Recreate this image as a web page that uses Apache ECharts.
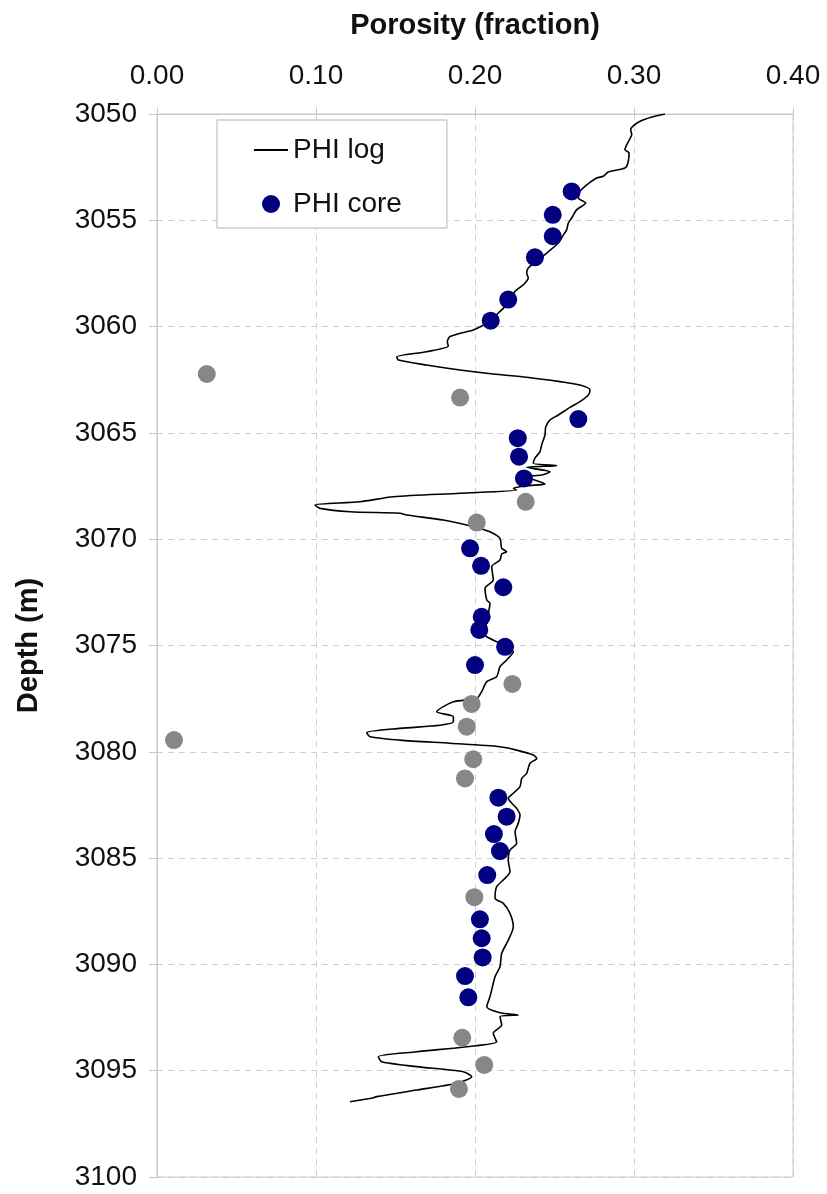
<!DOCTYPE html>
<html>
<head>
<meta charset="utf-8">
<script src="https://cdn.jsdelivr.net/npm/echarts@6/dist/echarts.min.js"></script>
<style>
html,body{margin:0;padding:0;background:#fff;}
#chart{width:827px;height:1194px;}
</style>
</head>
<body>
<div id="chart"></div>
<script>
// PHI log (porosity fraction) and depth (m)
var logPhi = [0.3195,0.3113,0.3038,0.2992,0.2979,0.2986,0.2971,0.2943,0.2969,0.2954,0.2923,0.2838,0.2807,0.2765,0.2703,0.2660,0.2650,0.2696,0.2640,0.2608,0.2587,0.2577,0.2560,0.2524,0.2451,0.2388,0.2335,0.2325,0.2335,0.2304,0.2252,0.2199,0.2147,0.2094,0.2031,0.1989,0.1843,0.1826,0.1832,0.1696,0.1508,0.1518,0.1696,0.1906,0.2115,0.2325,0.2535,0.2660,0.2723,0.2713,0.2660,0.2597,0.2524,0.2472,0.2445,0.2440,0.2419,0.2409,0.2377,0.2367,0.2514,0.2325,0.2472,0.2419,0.2325,0.2440,0.2325,0.2241,0.2262,0.1906,0.1486,0.1277,0.0994,0.1025,0.1214,0.1528,0.1570,0.1801,0.1989,0.2094,0.2157,0.2168,0.2199,0.2168,0.2157,0.2105,0.2115,0.2063,0.2074,0.2094,0.2084,0.2063,0.2074,0.2157,0.2241,0.2199,0.2157,0.2136,0.2074,0.2042,0.2011,0.1864,0.1759,0.1864,0.1864,0.1780,0.1528,0.1319,0.1340,0.1528,0.1843,0.2157,0.2262,0.2367,0.2388,0.2346,0.2325,0.2294,0.2283,0.2241,0.2209,0.2262,0.2283,0.2272,0.2252,0.2262,0.2220,0.2209,0.2220,0.2189,0.2136,0.2126,0.2178,0.2220,0.2241,0.2209,0.2168,0.2157,0.2126,0.2105,0.2094,0.2074,0.2157,0.2272,0.2157,0.2168,0.2115,0.2136,0.1948,0.1633,0.1392,0.1413,0.1633,0.1926,0.1979,0.1885,0.1633,0.1382,0.1350,0.1214];
var logDepth = [3050.00,3050.14,3050.34,3050.58,3050.74,3050.97,3051.21,3051.68,3051.83,3052.46,3052.59,3052.73,3052.93,3053.01,3053.33,3053.64,3053.95,3054.19,3054.50,3054.89,3055.13,3055.44,3055.64,3056.07,3056.54,3056.93,3057.24,3057.48,3057.71,3058.03,3058.34,3058.97,3059.36,3059.75,3060.02,3060.16,3060.47,3060.71,3060.91,3061.18,3061.42,3061.57,3061.81,3062.04,3062.23,3062.38,3062.59,3062.75,3062.98,3063.22,3063.53,3063.80,3064.16,3064.39,3064.71,3065.10,3065.57,3065.88,3066.19,3066.43,3066.54,3066.62,3066.83,3066.98,3067.06,3067.40,3067.48,3067.61,3067.69,3067.84,3068.00,3068.24,3068.39,3068.55,3068.71,3068.78,3068.86,3069.10,3069.41,3069.65,3069.96,3070.43,3070.59,3070.70,3070.98,3071.29,3071.92,3072.31,3072.86,3073.02,3073.49,3074.43,3074.59,3074.90,3075.29,3075.68,3076.00,3076.47,3076.70,3077.17,3077.49,3077.65,3078.12,3078.35,3078.59,3078.75,3078.90,3079.10,3079.29,3079.45,3079.60,3079.76,3079.92,3080.15,3080.31,3080.54,3081.01,3081.25,3081.64,3081.95,3082.19,3082.66,3082.97,3083.36,3083.76,3084.30,3084.62,3085.09,3085.64,3085.95,3086.35,3086.89,3087.13,3087.60,3088.23,3088.86,3089.48,3090.11,3090.58,3091.20,3091.52,3091.99,3092.27,3092.38,3092.46,3092.85,3093.24,3093.64,3093.87,3094.11,3094.34,3094.58,3094.81,3095.05,3095.28,3095.59,3095.91,3096.22,3096.30,3096.46];

// PHI core samples
var corePhi = [0.2608,0.2489,0.2489,0.2377,0.2209,0.2099,0.2650,0.2269,0.2277,0.2308,0.1969,0.2038,0.2178,0.2042,0.2027,0.2189,0.2000,0.2147,0.2199,0.2119,0.2157,0.2077,0.2031,0.2042,0.2048,0.1937,0.1958];
var coreDepth = [3053.64,3054.74,3055.75,3056.74,3058.73,3059.72,3064.35,3065.25,3066.12,3067.14,3070.43,3071.25,3072.26,3073.65,3074.27,3075.06,3075.92,3082.16,3083.05,3083.87,3084.67,3085.80,3087.88,3088.77,3089.67,3090.55,3091.55];

// other core samples (grey)
var greyPhi = [0.0313,0.1906,0.2319,0.2011,0.2235,0.1979,0.1948,0.0107,0.1989,0.1937,0.1996,0.1920,0.2058,0.1899];
var greyDepth = [3062.23,3063.34,3068.24,3069.22,3076.81,3077.75,3078.82,3079.45,3080.35,3081.25,3086.84,3093.45,3094.73,3095.86];

// axis ticks
var xTicks = [0.00,0.10,0.20,0.30,0.40];
var yTicks = [3050,3055,3060,3065,3070,3075,3080,3085,3090,3095,3100];

function pairs(xs, ys){ return xs.map(function(v,i){ return [v, ys[i]]; }); }

var FONT = "'Liberation Sans', Arial, Helvetica, sans-serif";
var chart = echarts.init(document.getElementById('chart'), null, {renderer:'canvas'});
chart.setOption({
  animation: false,
  backgroundColor: '#ffffff',
  textStyle: {fontFamily: FONT},
  grid: {left: 157, top: 114, width: 636, height: 1063, show: true, borderColor: '#c8c8c8', borderWidth: 1},
  legend: {
    orient: 'vertical', left: 217, top: 120,
    data: [
      {name:'PHI log', itemStyle: {opacity: 0}},
      {name:'PHI core', icon:'circle'}
    ],
    itemWidth: 34, itemHeight: 18, itemGap: 26,
    padding: [16, 45, 10, 36],
    borderColor: '#b4b4b4', borderWidth: 1, backgroundColor: '#fff',
    textStyle: {fontSize: 28, color: '#111', fontFamily: FONT}
  },
  xAxis: {
    type: 'value', position: 'top', min: xTicks[0], max: xTicks[xTicks.length-1], interval: 0.1,
    name: 'Porosity (fraction)', nameLocation: 'middle', nameGap: 74,
    nameTextStyle: {fontSize: 29, fontWeight: 'bold', color: '#111', fontFamily: FONT},
    axisLine: {show: true, lineStyle: {color: '#c8c8c8', width: 1}},
    axisTick: {show: true, inside: false, length: 6, lineStyle: {color: '#c8c8c8'}},
    axisLabel: {fontSize: 28, color: '#111', margin: 24, fontFamily: FONT,
      formatter: function(v){ return v.toFixed(2); }},
    splitLine: {show: true, lineStyle: {color: '#cfcfcf', type: [6, 5], width: 1}}
  },
  yAxis: {
    type: 'value', inverse: true, min: yTicks[0], max: yTicks[yTicks.length-1], interval: 5,
    name: 'Depth (m)', nameLocation: 'middle', nameGap: 114,
    nameTextStyle: {fontSize: 29, fontWeight: 'bold', color: '#111', fontFamily: FONT},
    axisLine: {show: true, lineStyle: {color: '#c8c8c8', width: 1}},
    axisTick: {show: true, inside: false, length: 8, lineStyle: {color: '#c8c8c8'}},
    axisLabel: {fontSize: 28, color: '#111', margin: 20, fontFamily: FONT,
      formatter: function(v){ return String(v); }},
    splitLine: {show: true, lineStyle: {color: '#cfcfcf', type: [6, 5], width: 1}}
  },
  series: [
    {
      name: 'PHI log', type: 'line', data: pairs(logPhi, logDepth),
      symbol: 'none', smooth: 0.25, z: 3,
      lineStyle: {color: '#000', width: 1.6}, itemStyle: {color: '#000'}
    },
    {
      name: 'PHI core', type: 'scatter', data: pairs(corePhi, coreDepth),
      symbol: 'circle', symbolSize: 18, z: 4,
      itemStyle: {color: '#000080', opacity: 1}
    },
    {
      name: 'Other core', type: 'scatter', data: pairs(greyPhi, greyDepth),
      symbol: 'circle', symbolSize: 18, z: 4,
      itemStyle: {color: '#878787', opacity: 1}
    }
  ]
});
</script>
</body>
</html>
